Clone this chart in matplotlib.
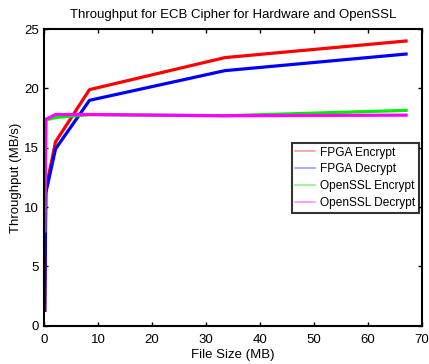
import matplotlib.pyplot as plt
from matplotlib.lines import Line2D

plt.rcParams['font.family'] = ['Liberation Sans', 'DejaVu Sans']

# File sizes (MB) and throughput (MB/s)
file_size = [0.1, 0.3, 2.1, 8.4, 33.5, 67.1]
fpga_enc = [1.3, 11.5, 15.5, 19.9, 22.6, 24.0]
fpga_dec = [1.3, 11.2, 14.9, 19.0, 21.5, 22.9]
ssl_enc = [8.0, 17.35, 17.55, 17.8, 17.7, 18.15]
ssl_dec = [8.1, 17.4, 17.8, 17.8, 17.7, 17.75]

labels = ["FPGA Encrypt", "FPGA Decrypt", "OpenSSL Encrypt", "OpenSSL Decrypt"]
colors = ["#ff0000", "#0000ff", "#00ee00", "#ff00ff"]
legend_colors = ["#ff9a9a", "#9a9aff", "#90f090", "#ff90ff"]

fig = plt.figure(figsize=(4.29, 3.64), dpi=100)
ax = fig.add_axes([0.103, 0.105, 0.880, 0.815])

for ys, c in zip([fpga_enc, fpga_dec, ssl_enc, ssl_dec], colors):
    ax.plot(file_size, ys, color=c, lw=2.3, solid_joinstyle='round')

ax.set_xlim(0, 70)
ax.set_ylim(0, 25)
ax.set_xticks(range(0, 71, 10))
ax.set_yticks(range(0, 26, 5))
ax.tick_params(direction='in', top=True, right=True, length=3, width=1,
               labelsize=9.5, colors='black', pad=4)
ax.tick_params(axis='x', pad=6)
for s in ax.spines.values():
    s.set_linewidth(1.5)

ax.set_title("Throughput for ECB Cipher for Hardware and OpenSSL", fontsize=9.5, pad=8)
ax.set_xlabel("File Size (MB)", fontsize=9.5, labelpad=2)
ax.set_ylabel("Throughput (MB/s)", fontsize=9.5, labelpad=1)

handles = [Line2D([], [], color=c, lw=1.2) for c in legend_colors]
leg = ax.legend(handles, labels, loc='upper right', bbox_to_anchor=(0.993, 0.616),
                fontsize=8.6, frameon=True, fancybox=False, handlelength=1.7,
                handletextpad=0.4, borderpad=0.3, labelspacing=0.4, borderaxespad=0)
leg.get_frame().set_edgecolor('black')
leg.get_frame().set_linewidth(1.5)

fig.savefig("out.png", dpi=100)
